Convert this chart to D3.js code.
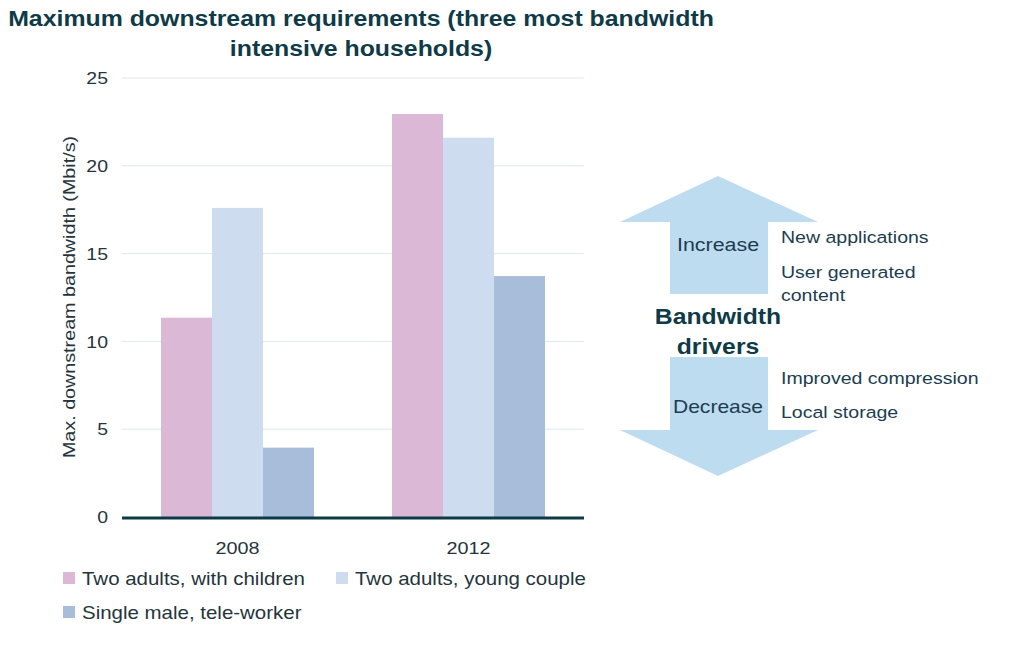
<!DOCTYPE html>
<html><head><meta charset="utf-8">
<script src="https://cdn.jsdelivr.net/npm/d3@7"></script>
<style>body{margin:0;background:#fff}svg{display:block}</style>
</head><body>
<svg id="c" width="1024" height="656"></svg>
<script>
const years = ["2008", "2012"];
const seriesNames = ["Two adults, with children", "Two adults, young couple", "Single male, tele-worker"];
const seriesColors = ["#dbb8d6", "#cddcee", "#a8bdd9"];
const withChildren = [11.35, 22.95];
const youngCouple = [17.6, 21.6];
const teleWorker = [3.95, 13.72];
const yTicks = [0, 5, 10, 15, 20, 25];
const titleLines = ["Maximum downstream requirements (three most bandwidth", "intensive households)"];
const increaseItems = ["New applications", "User generated", "content"];
const decreaseItems = ["Improved compression", "Local storage"];

const values = [withChildren, youngCouple, teleWorker];
const svg = d3.select("#c");
const font = "'Liberation Sans', Arial, sans-serif";
const dark = "#0f3a48";
const textCol = "#26343c";

// text helper with horizontal stretch
function txt(parent, x, y, s, o) {
  o = o || {};
  return parent.append("text")
    .attr("transform", `translate(${x},${y}) rotate(${o.rot || 0}) scale(${o.sx || 1.17},1)`)
    .attr("text-anchor", o.anchor || "start")
    .attr("font-family", font)
    .attr("font-weight", o.bold ? "bold" : "normal")
    .attr("font-size", o.size || 16)
    .attr("fill", o.fill || textCol)
    .text(s);
}

const x0 = d3.scaleBand().domain(years).range([122, 584]).paddingInner(0).paddingOuter(0);
const x1 = d3.scaleBand().domain(d3.range(3)).range([0, 153]);
const y = d3.scaleLinear().domain([0, 25]).range([517, 78]);

// title
titleLines.forEach((l, i) => txt(svg, 361, 26 + i * 30, l, { anchor: "middle", bold: true, size: 22, sx: 1.13, fill: dark }));

// gridlines
svg.append("g").selectAll("line").data(yTicks.filter(d => d > 0)).join("line")
  .attr("x1", 122).attr("x2", 584).attr("y1", d => y(d)).attr("y2", d => y(d))
  .attr("stroke", "#dce8f2").attr("stroke-width", 1);

// y axis labels via d3 axis
const yAxis = svg.append("g").attr("transform", "translate(108,0)")
  .call(d3.axisLeft(y).tickValues(yTicks).tickSize(0).tickPadding(0));
yAxis.select(".domain").remove();
yAxis.selectAll(".tick text").attr("font-family", font).attr("font-size", 16.5).attr("fill", textCol)
  .attr("dy", "0.35em").attr("transform", "scale(1.18,1)");

txt(svg, 75, 297, "Max. downstream bandwidth (Mbit/s)", { anchor: "middle", size: 17, rot: -90, sx: 1.16 });

// bars
years.forEach((yr, gi) => {
  const gx = x0(yr) + (x0.bandwidth() - 153) / 2;
  svg.append("g").selectAll("rect").data(values.map((s, si) => ({ si, v: s[gi] }))).join("rect")
    .attr("x", d => gx + x1(d.si)).attr("width", x1.bandwidth())
    .attr("y", d => y(d.v)).attr("height", d => y(0) - y(d.v))
    .attr("fill", d => seriesColors[d.si]);
});

// x axis
svg.append("line").attr("x1", 122).attr("x2", 584).attr("y1", y(0) + 1).attr("y2", y(0) + 1)
  .attr("stroke", "#0d3a46").attr("stroke-width", 3);
years.forEach(yr => txt(svg, x0(yr) + x0.bandwidth() / 2, 554, yr, { anchor: "middle", size: 16.5, sx: 1.2 }));

// legend
const legPos = [[63, 585], [336, 585], [63, 619]];
seriesNames.forEach((n, i) => {
  const [lx, ly] = legPos[i];
  svg.append("rect").attr("x", lx).attr("y", ly - 13).attr("width", 12).attr("height", 12).attr("fill", seriesColors[i]);
  txt(svg, lx + 19, ly, n, { size: 17.5, sx: 1.17 });
});

// arrows
const arrowColor = "#bddcf0";
svg.append("path").attr("fill", arrowColor)
  .attr("d", "M718,176 L818,222 L768,222 L768,294 L670,294 L670,222 L620,222 Z");
svg.append("path").attr("fill", arrowColor)
  .attr("d", "M670,357 L768,357 L768,430 L818,430 L718,476 L620,430 L670,430 Z");

txt(svg, 718, 251, "Increase", { anchor: "middle", size: 18, sx: 1.19, fill: "#1c3d50" });
txt(svg, 718, 413, "Decrease", { anchor: "middle", size: 18, sx: 1.17, fill: "#1c3d50" });

["Bandwidth", "drivers"].forEach((l, i) => txt(svg, 718, 324 + i * 30, l, { anchor: "middle", bold: true, size: 22, sx: 1.125, fill: dark }));

increaseItems.forEach((l, i) => txt(svg, 781, [243, 278, 301][i], l, { size: 17, sx: 1.15, fill: "#1c3d50" }));
decreaseItems.forEach((l, i) => txt(svg, 781, [384, 418][i], l, { size: 17, sx: 1.15, fill: "#1c3d50" }));
</script>
</body></html>
